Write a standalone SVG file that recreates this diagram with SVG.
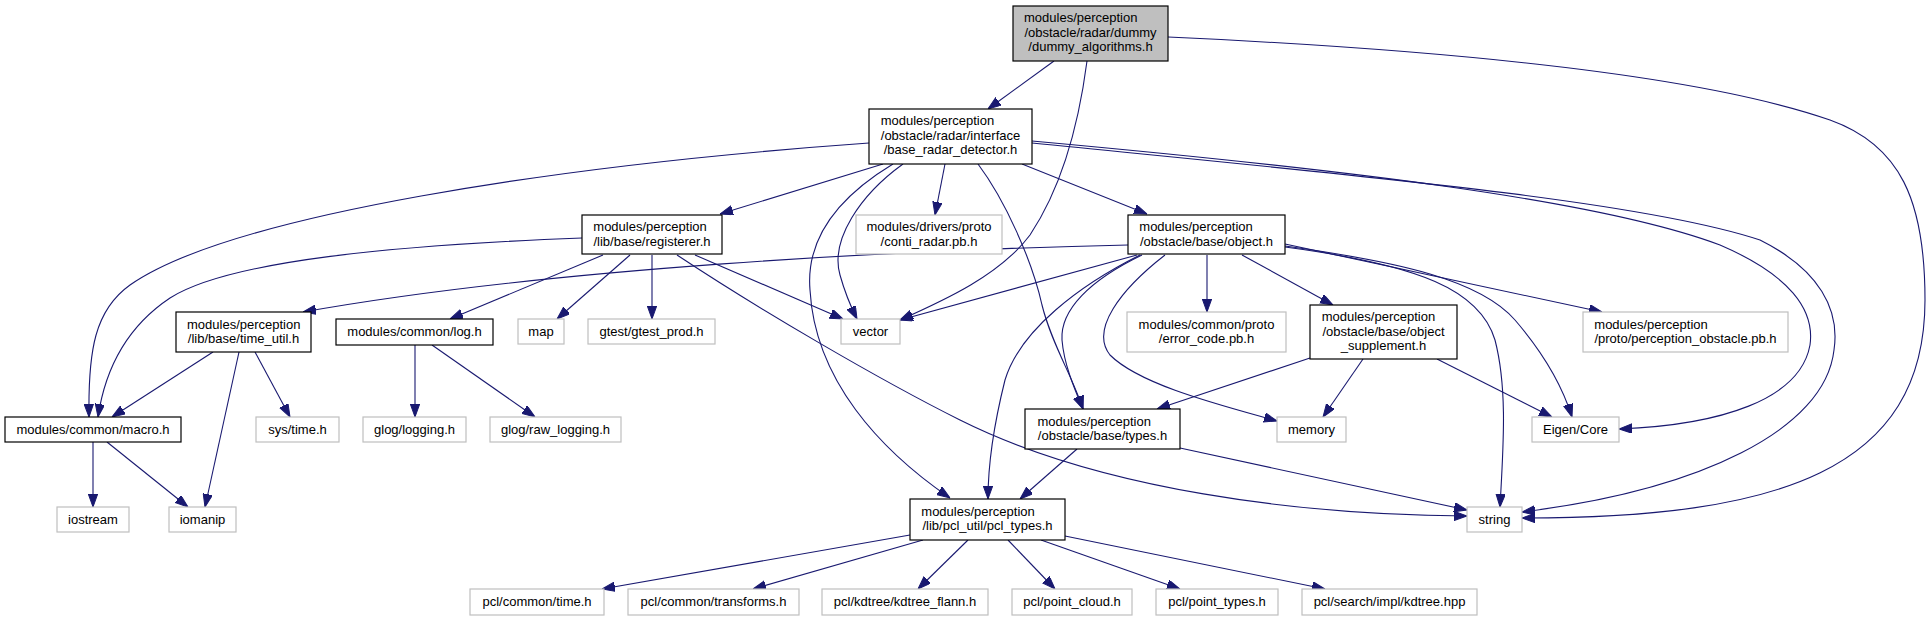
<svg xmlns="http://www.w3.org/2000/svg" width="1932" height="621" viewBox="0 0 1932 621">
<style>
rect{stroke-width:1.2}
.n rect{fill:#ffffff;stroke:#000000}
.g rect{fill:#ffffff;stroke:#bfbfbf}
.r rect{fill:#bfbfbf;stroke:#000000}
text{font-family:"Liberation Sans",Arial,Helvetica,sans-serif;font-size:13px;fill:#000000}
.m{text-anchor:middle}
#edges path{fill:none;stroke:#191970;stroke-width:1.1;marker-end:url(#ah)}
</style>
<defs>
<marker id="ah" markerUnits="userSpaceOnUse" markerWidth="13" markerHeight="10" refX="13" refY="4.7" orient="auto">
<path d="M0,0 L13,4.7 L0,9.4 z" fill="#191970" stroke="#191970" stroke-width="1"/>
</marker>
</defs>
<rect width="1932" height="621" fill="#ffffff"/>
<g id="edges">
<path d="M1054,61 L988,109"/>
<path d="M1087,61 C1078,130 1060,190 1030,235 C1000,275 945,300 900,320"/>
<path d="M1168,37 C1450,50 1700,75 1830,120 C1900,145 1925,200 1925,300 C1925,470 1780,518 1522,518"/>
<path d="M869,143 C560,165 230,215 130,285 C95,310 88,350 89,417"/>
<path d="M883,164 L720,214"/>
<path d="M893,164 C850,190 805,230 810,290 C815,380 880,450 950,498"/>
<path d="M903,164 C860,195 830,240 840,275 C845,293 850,305 857,319"/>
<path d="M945,164 L935,215"/>
<path d="M978,164 C1005,200 1032,260 1042,305 C1052,345 1072,375 1083,409"/>
<path d="M1022,164 L1147,214"/>
<path d="M1032,141 C1350,170 1600,200 1720,245 C1790,275 1815,310 1810,345 C1800,400 1720,425 1619,429"/>
<path d="M1032,143 C1350,175 1640,200 1760,240 C1820,270 1840,310 1834,350 C1825,430 1700,490 1522,512"/>
<path d="M582,238 C400,245 230,260 170,298 C125,328 105,370 98,417"/>
<path d="M603,255 L450,319"/>
<path d="M630,255 L557,319"/>
<path d="M652,255 L652,319"/>
<path d="M695,255 L843,319"/>
<path d="M677,255 C760,310 880,380 960,420 C1100,490 1300,515 1467,516"/>
<path d="M1128,245 C900,250 550,268 303,312"/>
<path d="M1137,255 L900,320"/>
<path d="M1140,255 C1080,285 1020,330 1005,380 C995,420 988,460 988,499"/>
<path d="M1142,255 C1090,280 1060,310 1062,340 C1064,365 1075,390 1083,409"/>
<path d="M1165,255 C1120,290 1090,330 1110,355 C1140,385 1220,405 1277,421"/>
<path d="M1207,255 L1207,312"/>
<path d="M1242,255 L1333,305"/>
<path d="M1285,247 C1420,265 1480,290 1495,340 C1508,390 1503,450 1500,507"/>
<path d="M1285,246 C1400,262 1480,280 1515,320 C1545,355 1562,385 1572,417"/>
<path d="M1285,244 L1602,312"/>
<path d="M1310,358 L1157,409"/>
<path d="M1363,359 L1323,417"/>
<path d="M1437,359 L1552,417"/>
<path d="M1077,449 L1020,499"/>
<path d="M1180,448 L1467,510"/>
<path d="M910,535 L602,589"/>
<path d="M923,540 L753,589"/>
<path d="M968,540 L918,589"/>
<path d="M1008,540 L1055,589"/>
<path d="M1041,540 L1180,589"/>
<path d="M1065,536 L1325,589"/>
<path d="M213,352 L112,417"/>
<path d="M239,352 L205,507"/>
<path d="M255,352 L290,417"/>
<path d="M93,442 L93,507"/>
<path d="M107,442 L188,507"/>
<path d="M415,345 L415,417"/>
<path d="M432,345 L535,417"/>
</g>
<g id="node_dummy" class="r"><rect x="1013" y="6" width="155" height="55"/><text x="1024" y="22">modules/perception</text><text class="m" x="1090.5" y="36.5">/obstacle/radar/dummy</text><text class="m" x="1090.5" y="51">/dummy_algorithms.h</text></g>
<g id="node_base_radar" class="n"><rect x="869" y="109" width="163" height="55"/><text x="880.7" y="125">modules/perception</text><text class="m" x="950.5" y="139.5">/obstacle/radar/interface</text><text class="m" x="950.5" y="154">/base_radar_detector.h</text></g>
<g id="node_registerer" class="n"><rect x="582" y="215" width="140" height="39"/><text x="593.3" y="231.3">modules/perception</text><text class="m" x="652" y="245.8">/lib/base/registerer.h</text></g>
<g id="node_conti" class="g"><rect x="856" y="215" width="146" height="39"/><text class="m" x="929" y="231.3">modules/drivers/proto</text><text class="m" x="929" y="245.8">/conti_radar.pb.h</text></g>
<g id="node_object" class="n"><rect x="1128" y="215" width="157" height="39"/><text x="1139.3" y="231.3">modules/perception</text><text class="m" x="1206.5" y="245.8">/obstacle/base/object.h</text></g>
<g id="node_time_util" class="n"><rect x="176" y="312" width="135" height="40"/><text x="187" y="328.5">modules/perception</text><text class="m" x="243.5" y="343">/lib/base/time_util.h</text></g>
<g id="node_log" class="n"><rect x="336" y="319" width="157" height="26"/><text class="m" x="414.5" y="336">modules/common/log.h</text></g>
<g id="node_map" class="g"><rect x="518" y="319" width="46" height="25"/><text class="m" x="541" y="335.5">map</text></g>
<g id="node_gtest" class="g"><rect x="588" y="319" width="127" height="25"/><text class="m" x="651.5" y="335.5">gtest/gtest_prod.h</text></g>
<g id="node_vector" class="g"><rect x="841" y="319" width="59" height="25"/><text class="m" x="870.5" y="335.5">vector</text></g>
<g id="node_error_code" class="g"><rect x="1127" y="312" width="159" height="40"/><text class="m" x="1206.5" y="328.5">modules/common/proto</text><text class="m" x="1206.5" y="343">/error_code.pb.h</text></g>
<g id="node_supplement" class="n"><rect x="1310" y="305" width="147" height="54"/><text x="1321.7" y="321">modules/perception</text><text class="m" x="1383.5" y="335.5">/obstacle/base/object</text><text class="m" x="1383.5" y="350">_supplement.h</text></g>
<g id="node_perception_obstacle" class="g"><rect x="1583" y="312" width="205" height="40"/><text x="1594.3" y="328.5">modules/perception</text><text class="m" x="1685.5" y="343">/proto/perception_obstacle.pb.h</text></g>
<g id="node_macro" class="n"><rect x="5" y="417" width="176" height="25"/><text class="m" x="93" y="433.5">modules/common/macro.h</text></g>
<g id="node_sys_time" class="g"><rect x="256" y="417" width="83" height="25"/><text class="m" x="297.5" y="433.5">sys/time.h</text></g>
<g id="node_glog_logging" class="g"><rect x="363" y="417" width="103" height="25"/><text class="m" x="414.5" y="433.5">glog/logging.h</text></g>
<g id="node_glog_raw" class="g"><rect x="490" y="417" width="131" height="25"/><text class="m" x="555.5" y="433.5">glog/raw_logging.h</text></g>
<g id="node_types" class="n"><rect x="1025" y="409" width="155" height="40"/><text x="1037.5" y="425.5">modules/perception</text><text class="m" x="1102.5" y="440">/obstacle/base/types.h</text></g>
<g id="node_memory" class="g"><rect x="1277" y="417" width="69" height="25"/><text class="m" x="1311.5" y="433.5">memory</text></g>
<g id="node_eigen" class="g"><rect x="1532" y="417" width="87" height="25"/><text class="m" x="1575.5" y="433.5">Eigen/Core</text></g>
<g id="node_iostream" class="g"><rect x="57" y="507" width="72" height="25"/><text class="m" x="93" y="523.5">iostream</text></g>
<g id="node_iomanip" class="g"><rect x="169" y="507" width="67" height="25"/><text class="m" x="202.5" y="523.5">iomanip</text></g>
<g id="node_pcl_types" class="n"><rect x="910" y="499" width="155" height="41"/><text x="921.3" y="515.5">modules/perception</text><text class="m" x="987.5" y="530">/lib/pcl_util/pcl_types.h</text></g>
<g id="node_string" class="g"><rect x="1467" y="507" width="55" height="25"/><text class="m" x="1494.5" y="523.5">string</text></g>
<g id="node_pcl_time" class="g"><rect x="470" y="589" width="134" height="26"/><text class="m" x="537" y="606">pcl/common/time.h</text></g>
<g id="node_pcl_transforms" class="g"><rect x="628" y="589" width="171" height="26"/><text class="m" x="713.5" y="606">pcl/common/transforms.h</text></g>
<g id="node_kdtree_flann" class="g"><rect x="822" y="589" width="166" height="26"/><text class="m" x="905" y="606">pcl/kdtree/kdtree_flann.h</text></g>
<g id="node_point_cloud" class="g"><rect x="1012" y="589" width="120" height="26"/><text class="m" x="1072" y="606">pcl/point_cloud.h</text></g>
<g id="node_point_types" class="g"><rect x="1156" y="589" width="122" height="26"/><text class="m" x="1217" y="606">pcl/point_types.h</text></g>
<g id="node_kdtree_hpp" class="g"><rect x="1302" y="589" width="175" height="26"/><text class="m" x="1389.5" y="606">pcl/search/impl/kdtree.hpp</text></g>
</svg>
